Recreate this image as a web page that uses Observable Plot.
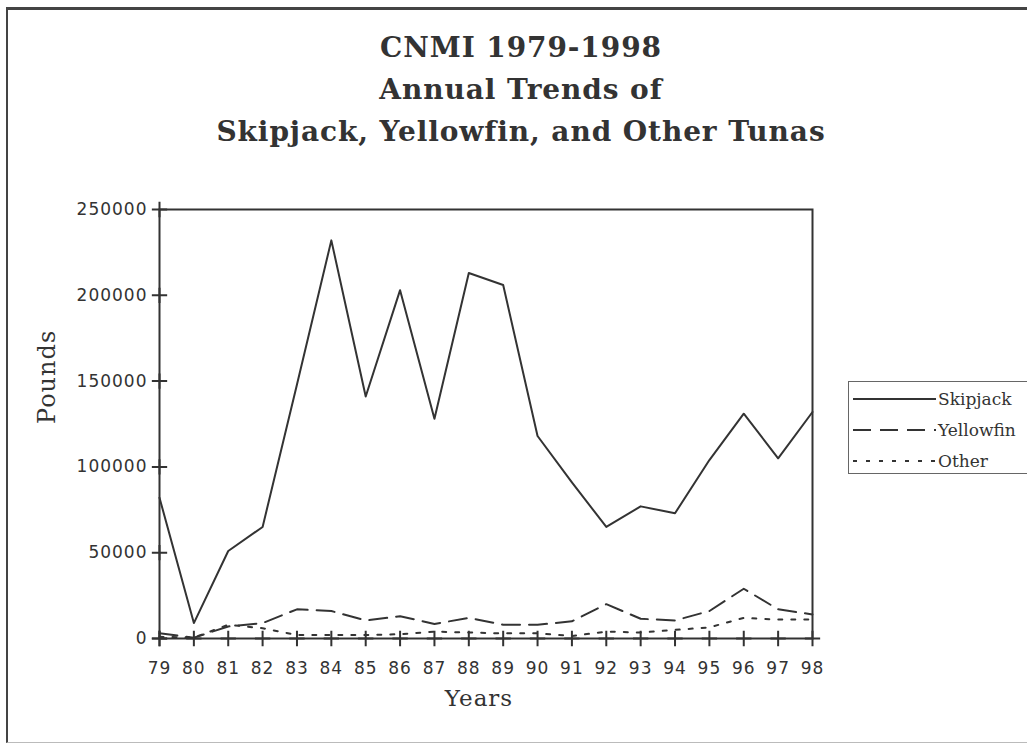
<!DOCTYPE html>
<html>
<head>
<meta charset="utf-8">
<script src="https://cdn.jsdelivr.net/npm/d3@7"></script>
<script src="https://cdn.jsdelivr.net/npm/@observablehq/plot@0.6"></script>
<style>
  body { margin: 0; background: #fff; }
  #page { position: relative; width: 1027px; height: 746px; overflow: hidden; background: #fff; }
  #border { position: absolute; left: 6px; top: 7px; width: 1060px; height: 736px; box-sizing: border-box;
            border-top: 3px solid #444; border-left: 2.5px solid #444; border-bottom: 1.5px solid #bbb; }
  #title { position: absolute; left: 0; top: 27px; width: 1042px; text-align: center;
           font-family: "DejaVu Serif", serif; font-weight: bold; font-size: 28px; letter-spacing: 0.9px;
           line-height: 42px; color: #333; }
  #chart { position: absolute; left: 0; top: 160px; }
  #legend { position: absolute; left: 848px; top: 381px; width: 190px; height: 93px; box-sizing: border-box;
            border: 1.5px solid #666; background: #fff; }
  .row { position: absolute; left: 3px; height: 20px; display: flex; align-items: center;
         font-family: "DejaVu Serif", serif; font-size: 17px; color: #333; }
  .row svg { margin-right: 2px; }
</style>
</head>
<body>
<div id="page">
  <div id="border"></div>
  <div id="title">CNMI 1979-1998<br>Annual Trends of<br>Skipjack, Yellowfin, and Other Tunas</div>
  <div id="chart"></div>
  <div id="legend"></div>
</div>
<script>
// Data (pounds)
const years = [79, 80, 81, 82, 83, 84, 85, 86, 87, 88, 89, 90, 91, 92, 93, 94, 95, 96, 97, 98];
const skipjack = [82000, 9000, 51000, 65000, 148000, 232000, 141000, 203000, 128000, 213000, 206000, 118000, 91000, 65000, 77000, 73000, 104000, 131000, 105000, 132000];
const yellowfin = [3000, 500, 7000, 9000, 17000, 16000, 10500, 13000, 8500, 12000, 8000, 8000, 10000, 20000, 11500, 10500, 16000, 29000, 17000, 14000];
const other = [1000, 500, 8000, 6000, 2000, 2000, 2000, 2500, 4000, 3500, 3000, 3000, 1500, 4000, 3500, 5000, 6500, 12000, 11000, 11000];
const yTicks = [0, 50000, 100000, 150000, 200000, 250000];
const seriesNames = ["Skipjack", "Yellowfin", "Other"];
const seriesDash = { Skipjack: null, Yellowfin: "18,9", Other: "4,9" };

const rows = (name, vals) => years.map((yr, i) => ({ year: yr, series: name, pounds: vals[i] }));
const dSkip = rows("Skipjack", skipjack);
const dYell = rows("Yellowfin", yellowfin);
const dOther = rows("Other", other);

const ink = "#333";
const x0 = years[0];
const chart = Plot.plot({
  width: 1027,
  height: 586,
  marginLeft: 159,
  marginRight: 215,
  marginTop: 49,
  marginBottom: 108,
  style: { fontFamily: "DejaVu Sans, sans-serif", fontSize: "17px", color: ink, background: "transparent", overflow: "visible", letterSpacing: "1px" },
  x: { domain: [79, 98], label: null },
  y: { domain: [0, 250000], label: null },
  marks: [
    Plot.frame({ stroke: ink, strokeWidth: 2 }),
    Plot.axisY(yTicks, { tickSize: 0, tickPadding: 12, tickFormat: d => String(d), label: null }),
    Plot.axisX(years, { tickSize: 0, tickPadding: 23, tickFormat: d => String(d), label: null }),
    Plot.line(dOther, { x: "year", y: "pounds", stroke: ink, strokeWidth: 2, strokeDasharray: seriesDash.Other }),
    Plot.line(dYell, { x: "year", y: "pounds", stroke: ink, strokeWidth: 2, strokeDasharray: seriesDash.Yellowfin }),
    Plot.line(dSkip, { x: "year", y: "pounds", stroke: ink, strokeWidth: 2 }),
    // tick marks crossing the axes ("+" shapes centred on the axis lines)
    Plot.dot(yTicks, { x: x0, y: d => d, symbol: "plus", r: 5, stroke: ink, strokeWidth: 2 }),
    Plot.dot(years, { x: d => d, y: 0, symbol: "plus", r: 5, stroke: ink, strokeWidth: 2 }),
    Plot.text(["Years"], { frameAnchor: "bottom", dx: -7, dy: 67, fontFamily: "DejaVu Serif, serif", fontSize: 23, fill: ink }),
    Plot.text(["Pounds"], { frameAnchor: "left", dx: -112, dy: 0, rotate: -90, fontFamily: "DejaVu Serif, serif", fontSize: 24, fill: ink })
  ]
});
document.getElementById("chart").appendChild(chart);

// Legend
const legend = document.getElementById("legend");
const rowY = [7, 38, 69];
seriesNames.forEach((name, i) => {
  const row = document.createElement("div");
  row.className = "row";
  row.style.top = rowY[i] + "px";
  const dash = seriesDash[name] ? ` stroke-dasharray="${seriesDash[name]}"` : "";
  row.innerHTML = `<svg width="84" height="20"><line x1="1" x2="84" y1="10" y2="10" stroke="${ink}" stroke-width="2"${dash}/></svg><span>${name}</span>`;
  legend.appendChild(row);
});
</script>
</body>
</html>
